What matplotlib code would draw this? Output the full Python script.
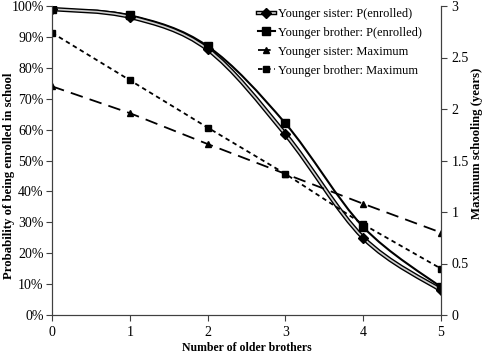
import matplotlib
matplotlib.use('Agg')
import matplotlib.pyplot as plt
from matplotlib.path import Path
from matplotlib.patches import PathPatch
from matplotlib.lines import Line2D
from matplotlib.ticker import PercentFormatter

# Данные
brothers = [0, 1, 2, 3, 4, 5]
sister_enrolled = [0.99, 0.965, 0.86, 0.585, 0.25, 0.08]
brother_enrolled = [0.99, 0.97, 0.87, 0.62, 0.285, 0.09]
sister_max = [2.22, 1.96, 1.66, 1.37, 1.08, 0.80]
brother_max = [2.74, 2.28, 1.82, 1.37, 0.88, 0.45]

plt.rcParams['font.family'] = ['Liberation Serif', 'DejaVu Serif']


def smooth_path(xs, ys):
    # сглаживание как в Excel (кубические кривые Безье)
    pts = list(zip(xs, ys))
    verts = [pts[0]]
    codes = [Path.MOVETO]
    n = len(pts)
    for i in range(n - 1):
        p0 = pts[i - 1] if i > 0 else pts[i]
        p1 = pts[i]
        p2 = pts[i + 1]
        p3 = pts[i + 2] if i + 2 < n else pts[i + 1]
        c1 = (p1[0] + (p2[0] - p0[0]) / 6, p1[1] + (p2[1] - p0[1]) / 6)
        c2 = (p2[0] - (p3[0] - p1[0]) / 6, p2[1] - (p3[1] - p1[1]) / 6)
        verts += [c1, c2, p2]
        codes += [Path.CURVE4] * 3
    return Path(verts, codes)


fig = plt.figure(figsize=(4.85, 3.54), dpi=100)
ax = fig.add_axes([52 / 485, 39 / 354, 389 / 485, 309 / 354])
ax2 = ax.twinx()

# P(enrolled) — сестра: двойная линия
ax.add_patch(PathPatch(smooth_path(brothers, sister_enrolled), fill=False, color='black', lw=3.2, zorder=3))
ax.add_patch(PathPatch(smooth_path(brothers, sister_enrolled), fill=False, color='#d0d0d0', lw=1.2, zorder=4))
ax.plot(brothers, sister_enrolled, 'D', color='black', ms=5, zorder=5)
# P(enrolled) — брат
ax.add_patch(PathPatch(smooth_path(brothers, brother_enrolled), fill=False, color='black', lw=1.5, zorder=3))
ax.plot(brothers, brother_enrolled, 's', color='black', ms=5.5, zorder=5)

# Maximum schooling
ax2.plot(brothers, sister_max, color='black', lw=1.3, ls=(0, (7, 4)), marker='^', ms=5)
ax2.plot(brothers, brother_max, color='black', lw=1.3, ls=(0, (2.5, 2)), marker='s', ms=5)

ax.set_xlim(0, 5)
ax.set_ylim(0, 1)
ax2.set_ylim(0, 3)
ax.set_xticks(brothers)
ax.set_yticks([i / 10 for i in range(11)])
ax.yaxis.set_major_formatter(PercentFormatter(1.0, decimals=0))
ax2.set_yticks([0, 0.5, 1, 1.5, 2, 2.5, 3])
ax2.set_yticklabels(['0', '0.5', '1', '1.5', '2', '2.5', '3'])

for a in (ax, ax2):
    a.spines['top'].set_visible(False)
    a.tick_params(labelsize=10, length=4, width=0.8, colors='#404040', labelcolor='black')
    for s in a.spines.values():
        s.set_color('#404040')
ax.tick_params(axis='x', pad=4)
ax.tick_params(axis='y', pad=2)

ax.set_xlabel('Number of older brothers', fontsize=8.5, fontweight='bold', labelpad=2)
ax.set_ylabel('Probability of being enrolled in school', fontsize=9.2, fontweight='bold')
ax.yaxis.set_label_coords(-0.095, 0.45)
ax2.set_ylabel('Maximum schooling (years)', fontsize=9.2, fontweight='bold')
ax2.yaxis.set_label_coords(1.077, 0.557)

# Легенда
h1 = (Line2D([], [], color='black', lw=3.2),
      Line2D([], [], color='#d0d0d0', lw=1.2, marker='D', ms=5, mfc='black', mec='black'))
h2 = Line2D([], [], color='black', lw=1.5, marker='s', ms=5.5)
h3 = Line2D([], [], color='black', lw=1.3, ls=(0, (7, 4)), marker='^', ms=5)
h4 = Line2D([], [], color='black', lw=1.3, ls=(0, (2.5, 2)), marker='s', ms=5)
ax2.legend([h1, h2, h3, h4],
           ['Younger sister: P(enrolled)', 'Younger brother: P(enrolled)',
            'Younger sister: Maximum', 'Younger brother: Maximum'],
           loc='upper left', bbox_to_anchor=(0.5, 1.03), frameon=False, fontsize=9,
           handlelength=1.4, handletextpad=0.2, labelspacing=0.55)

fig.savefig('out.png', dpi=100)
